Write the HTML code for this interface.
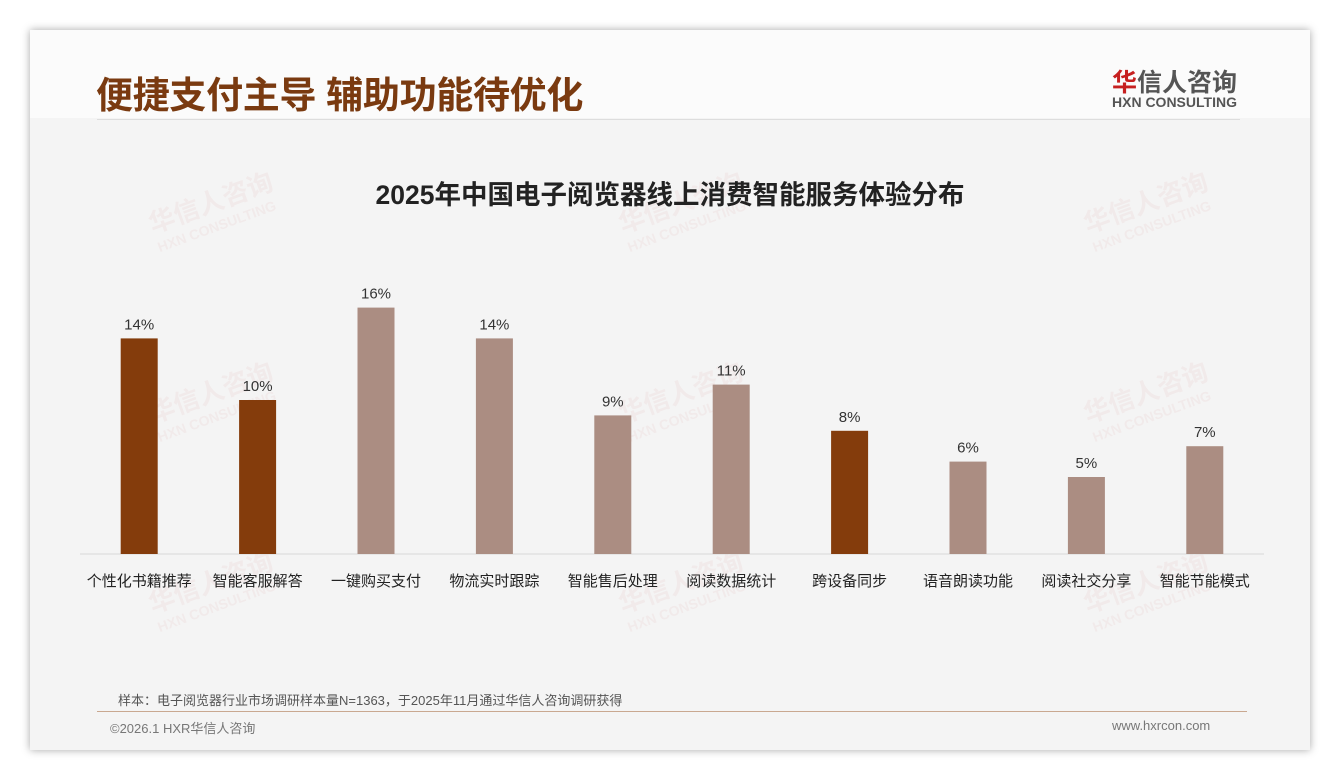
<!DOCTYPE html>
<html><head><meta charset="utf-8"><style>
body{margin:0;width:1340px;height:780px;background:#fff;font-family:"Liberation Sans","Noto Sans CJK SC",sans-serif;position:relative;overflow:hidden}
#slide{position:absolute;left:30px;top:30px;width:1280px;height:720px;background:#f4f4f4;box-shadow:0 0 8px rgba(0,0,0,.35)}
.abs{position:absolute;white-space:nowrap}
.wm{position:absolute;color:rgba(200,80,80,.06);font-weight:bold;transform:rotate(-20deg);font-size:26px;line-height:24px}
.wm span{display:block;font-size:14px}
</style></head><body>
<div id="slide">
<div class="abs" style="left:0;top:0;width:1280px;height:88px;background:#fbfbfb"></div>
<div class="abs" style="left:66px;top:35px;font-size:37px;letter-spacing:-0.3px;font-weight:bold;color:#7a3a10">便捷支付主导 辅助功能待优化</div>
<div class="abs" style="left:1082px;top:33px;font-size:25px;font-weight:bold;color:#555"><span style="color:#c62020">华</span>信人咨询</div>
<div class="abs" style="left:1082px;top:64px;font-size:14px;font-weight:bold;color:#555">HXN CONSULTING</div>
<div class="abs" style="left:67px;top:89px;width:1143px;height:1px;background:#ddd"></div>
<div class="wm" style="left:120px;top:160px">华信人咨询<span>HXN CONSULTING</span></div>
<div class="wm" style="left:590px;top:160px">华信人咨询<span>HXN CONSULTING</span></div>
<div class="wm" style="left:1055px;top:160px">华信人咨询<span>HXN CONSULTING</span></div>
<div class="wm" style="left:120px;top:350px">华信人咨询<span>HXN CONSULTING</span></div>
<div class="wm" style="left:590px;top:350px">华信人咨询<span>HXN CONSULTING</span></div>
<div class="wm" style="left:1055px;top:350px">华信人咨询<span>HXN CONSULTING</span></div>
<div class="wm" style="left:120px;top:540px">华信人咨询<span>HXN CONSULTING</span></div>
<div class="wm" style="left:590px;top:540px">华信人咨询<span>HXN CONSULTING</span></div>
<div class="wm" style="left:1055px;top:540px">华信人咨询<span>HXN CONSULTING</span></div>
<div class="abs" style="left:88px;top:660px;font-size:13px;color:#555">样本：电子阅览器行业市场调研样本量N=1363，于2025年11月通过华信人咨询调研获得</div>
<div class="abs" style="left:67px;top:681px;width:1150px;height:1px;background:#c9a890"></div>
<div class="abs" style="left:80px;top:688px;font-size:13px;color:#777">©2026.1 HXR华信人咨询</div>
<div class="abs" style="left:1082px;top:688px;font-size:13px;color:#777">www.hxrcon.com</div>
</div>
<svg id="chart" width="1340" height="780" style="position:absolute;left:0;top:0">
<text x="670" y="204" text-anchor="middle" font-size="26.5" font-weight="bold" fill="#222">2025年中国电子阅览器线上消费智能服务体验分布</text>
<line x1="80" y1="554" x2="1264" y2="554" stroke="#d8d8d8"/>
</svg>
<script>
const categories=["个性化书籍推荐","智能客服解答","一键购买支付","物流实时跟踪","智能售后处理","阅读数据统计","跨设备同步","语音朗读功能","阅读社交分享","智能节能模式"];
const values=[14,10,16,14,9,11,8,6,5,7];
const highlighted=[true,true,false,false,false,false,true,false,false,false];
const svg=document.getElementById('chart');const NS='http://www.w3.org/2000/svg';
const x0=80,x1=1264,base=554,perPct=15.4,bw=37;
const step=(x1-x0)/categories.length;
const xc=i=>x0+step*(i+0.5);
const yv=v=>base-v*perPct;
categories.forEach((c,i)=>{
const r=document.createElementNS(NS,'rect');
r.setAttribute('x',xc(i)-bw/2);r.setAttribute('y',yv(values[i]));r.setAttribute('width',bw);r.setAttribute('height',base-yv(values[i]));
r.setAttribute('fill',highlighted[i]?'#843c0c':'#ab8d82');


svg.appendChild(r);
const t=document.createElementNS(NS,'text');
t.setAttribute('x',xc(i));t.setAttribute('y',yv(values[i])-9);t.setAttribute('text-anchor','middle');t.setAttribute('font-size','15');t.setAttribute('fill','#333');
t.textContent=values[i]+'%';


svg.appendChild(t);
const l=document.createElementNS(NS,'text');
l.setAttribute('x',xc(i));l.setAttribute('y',586);l.setAttribute('text-anchor','middle');l.setAttribute('font-size','15');l.setAttribute('fill','#222');
l.textContent=c;


svg.appendChild(l);
});
</script>
</body></html>
